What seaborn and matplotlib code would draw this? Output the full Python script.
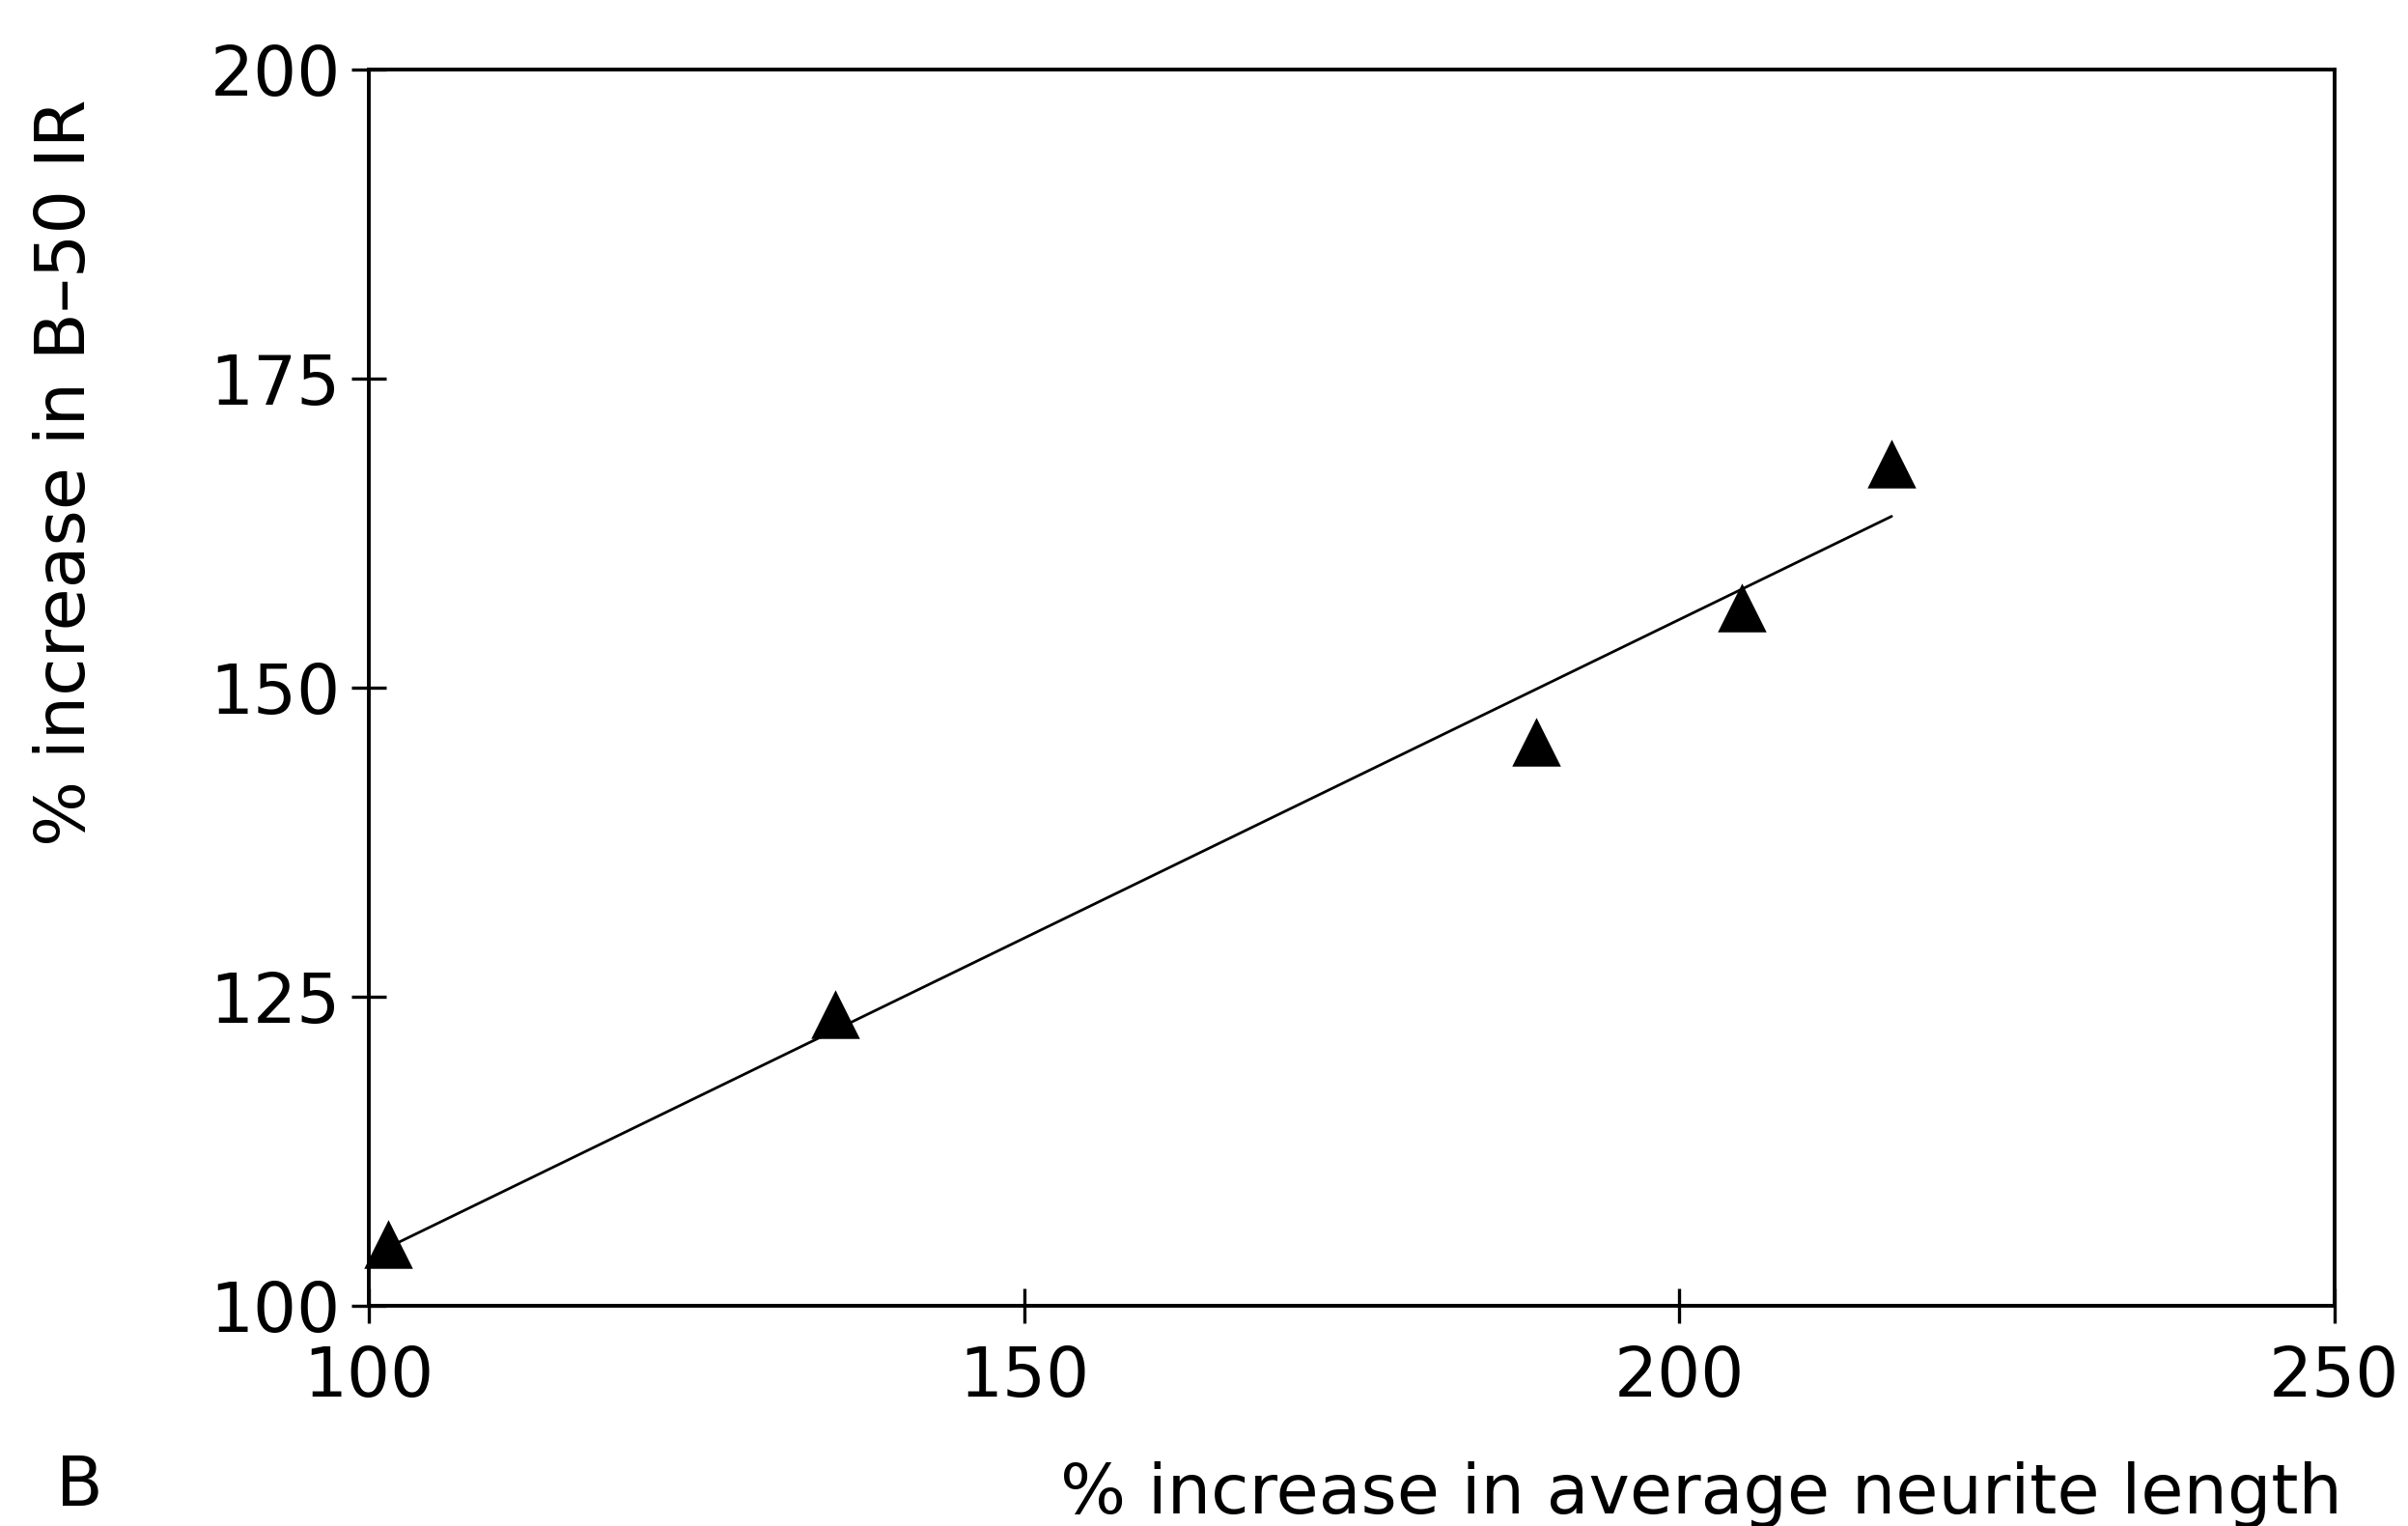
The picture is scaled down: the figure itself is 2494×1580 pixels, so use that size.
import numpy as np
import pandas as pd
import seaborn as sns
import matplotlib
matplotlib.use("Agg")
import matplotlib.pyplot as plt

# values
neurite_length = [101.5, 135.6, 189.1, 204.8, 216.2]
b50_ir = [105.0, 123.6, 145.6, 156.5, 168.1]
x_ticks = [100, 150, 200, 250]
y_ticks = [100, 125, 150, 175, 200]

df = pd.DataFrame({"length": neurite_length, "ir": b50_ir})

sns.set_theme(style="ticks")
plt.rcParams["font.family"] = ["DejaVu Sans"]
plt.rcParams["text.color"] = "black"
plt.rcParams["axes.labelcolor"] = "black"

fig = plt.figure(figsize=(12.47, 7.9), dpi=200)
ax = fig.add_axes([0.1532, 0.1443, 0.8163, 0.8101])

sns.regplot(x="length", y="ir", data=df, ax=ax, ci=None, marker="^",
            scatter_kws={"s": 330, "color": "black", "alpha": 1,
                         "linewidths": 0, "clip_on": False, "zorder": 3},
            line_kws={"color": "black", "lw": 1.0})

ax.set_xlim(100, 250)
ax.set_ylim(100, 200)
ax.set_xticks(x_ticks)
ax.set_yticks(y_ticks)

for sp in ax.spines.values():
    sp.set_visible(True)
    sp.set_color("black")
    sp.set_linewidth(1.4)

ax.tick_params(axis="both", direction="inout", length=13, width=1.2,
               colors="black", labelsize=25.5)
ax.tick_params(axis="x", pad=8)
ax.tick_params(axis="y", pad=4)

ax.set_xlabel("% increase in average neurite length", fontsize=25.8, loc="right")
ax.xaxis.set_label_coords(1.004, -0.126)
ax.set_ylabel("% increase in B\u201350 IR", fontsize=25.8, loc="top")
ax.yaxis.set_label_coords(-0.137, 0.976)

fig.text(0.033, 0.004, "B", fontsize=25.5, ha="center", va="bottom")

fig.savefig("out.png", dpi=200, facecolor="white")
